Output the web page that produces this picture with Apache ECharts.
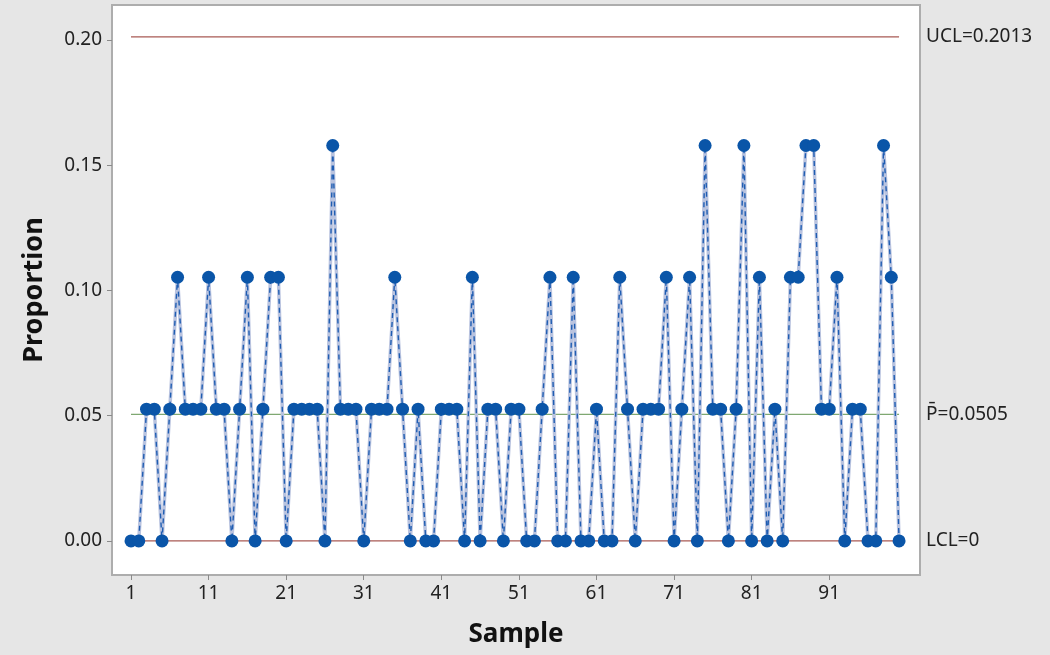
<!DOCTYPE html>
<html>
<head>
<meta charset="utf-8">
<script src="https://cdn.jsdelivr.net/npm/echarts@6/dist/echarts.min.js"></script>
<style>
html,body{margin:0;padding:0;background:#e6e6e6;}
#chart{width:1050px;height:655px;}
</style>
</head>
<body>
<div id="chart"></div>
<script>
// Sample numbers 1..100
const samples = [
  1,2,3,4,5,6,7,8,9,10,11,12,13,14,15,16,17,18,19,20,
  21,22,23,24,25,26,27,28,29,30,31,32,33,34,35,36,37,38,39,40,
  41,42,43,44,45,46,47,48,49,50,51,52,53,54,55,56,57,58,59,60,
  61,62,63,64,65,66,67,68,69,70,71,72,73,74,75,76,77,78,79,80,
  81,82,83,84,85,86,87,88,89,90,91,92,93,94,95,96,97,98,99,100
];
// Proportion defective per sample
const proportions = [
  0,0,0.0526,0.0526,0,0.0526,0.1053,0.0526,0.0526,0.0526,
  0.1053,0.0526,0.0526,0,0.0526,0.1053,0,0.0526,0.1053,0.1053,
  0,0.0526,0.0526,0.0526,0.0526,0,0.1579,0.0526,0.0526,0.0526,
  0,0.0526,0.0526,0.0526,0.1053,0.0526,0,0.0526,0,0,
  0.0526,0.0526,0.0526,0,0.1053,0,0.0526,0.0526,0,0.0526,
  0.0526,0,0,0.0526,0.1053,0,0,0.1053,0,0,
  0.0526,0,0,0.1053,0.0526,0,0.0526,0.0526,0.0526,0.1053,
  0,0.0526,0.1053,0,0.1579,0.0526,0.0526,0,0.0526,0.1579,
  0,0.1053,0,0.0526,0,0.1053,0.1053,0.1579,0.1579,0.0526,
  0.0526,0.1053,0,0.0526,0.0526,0,0,0.1579,0.1053,0
];
const UCL = 0.2013;
const PBAR = 0.0505;
const LCL = 0;
const xTicks = [1,11,21,31,41,51,61,71,81,91];
const yTicks = [0,0.05,0.10,0.15,0.20];

const pts = samples.map((s,i)=>[s, proportions[i]]);
const first = samples[0], last = samples[samples.length-1];

const chart = echarts.init(document.getElementById('chart'), null, {renderer:'canvas'});
const font = 'Noto Sans';
const limitLine = (val, color, label) => ({
  type:'line', data:[[first,val],[last,val]], symbol:'none', silent:true, z:1,
  lineStyle:{color:color, width:1.3},
  endLabel:{show:true, formatter:label, distance:27, color:'#222222',
    fontFamily:font, fontSize:19, align:'left', verticalAlign:'middle'}
});
chart.setOption({
  backgroundColor:'#e6e6e6',
  animation:false,
  grid:{left:112, top:5, right:130, bottom:80, show:true, backgroundColor:'#ffffff', borderColor:'#adadad', borderWidth:2},
  xAxis:{
    type:'value', min:-1.45, max:102.7,
    name:'Sample', nameLocation:'middle', nameGap:47,
    nameTextStyle:{fontFamily:font, fontSize:26, fontWeight:'bold', color:'#111111'},
    axisLine:{show:false, onZero:false}, splitLine:{show:false},
    axisTick:{show:true, inside:false, length:5, customValues:xTicks, lineStyle:{color:'#8a8a8a'}},
    axisLabel:{customValues:xTicks, fontFamily:font, fontSize:19, color:'#222222', margin:9}
  },
  yAxis:{
    type:'value', min:-0.0136, max:0.214,
    name:'Proportion', nameLocation:'middle', nameGap:64, nameRotate:90,
    nameTextStyle:{fontFamily:font, fontSize:27, fontWeight:'bold', color:'#111111'},
    axisLine:{show:false, onZero:false}, splitLine:{show:false},
    axisTick:{show:true, inside:false, length:5, customValues:yTicks, lineStyle:{color:'#8a8a8a'}},
    axisLabel:{customValues:yTicks, fontFamily:font, fontSize:19, color:'#222222', margin:10,
      formatter:v=>v.toFixed(2)}
  },
  series:[
    limitLine(UCL, '#a85a55', 'UCL=' + UCL),
    limitLine(PBAR, '#7fa872', 'P\u0304=' + PBAR),
    limitLine(LCL, '#a85a55', 'LCL=' + LCL),
    {type:'line', data:pts, symbol:'none', silent:true, z:2,
     lineStyle:{color:'#b9c3df', width:3.5}},
    {type:'line', data:pts, symbol:'circle', symbolSize:13, z:3,
     itemStyle:{color:'#0a55a8'},
     lineStyle:{color:'#1f5db2', width:1.4, type:[5,4]}}
  ]
});
</script>
</body>
</html>
